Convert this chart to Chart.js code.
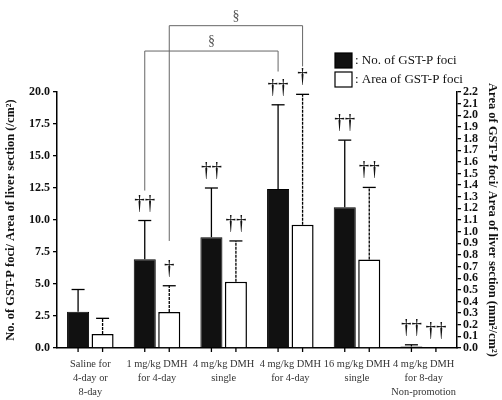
<!DOCTYPE html>
<html>
<head>
<meta charset="utf-8">
<script src="https://cdn.jsdelivr.net/npm/chart.js@4.4.1/dist/chart.umd.min.js"></script>
<style>
  html, body { margin: 0; padding: 0; background: #fff; }
</style>
</head>
<body>
<canvas id="c" width="502" height="400"></canvas>
<script>
const groups = [
  ["Saline for", "4-day or", "8-day"],
  ["1 mg/kg DMH", "for 4-day"],
  ["4 mg/kg DMH", "single"],
  ["4 mg/kg DMH", "for 4-day"],
  ["16 mg/kg DMH", "single"],
  ["4 mg/kg DMH", "for 8-day", "Non-promotion"]
];

// No. of GST-P foci (/cm2), left axis
const fociNumber = [2.83, 6.93, 8.66, 12.43, 11.0, 0.12];
const fociNumberSD = [1.74, 3.03, 3.84, 6.57, 5.24, 0.13];
// Area of GST-P foci (mm2/cm2), right axis
const fociArea = [0.12, 0.31, 0.57, 1.06, 0.76, 0];
const fociAreaSD = [0.135, 0.225, 0.35, 1.12, 0.62, 0];

const numberMarks = ["", "††", "††", "††", "††", "††"];
const areaMarks = ["", "†", "††", "†", "††", "††"];

const leftTicks = [0, 2.5, 5, 7.5, 10, 12.5, 15, 17.5, 20];
const rightTicks = [0, 0.1, 0.2, 0.3, 0.4, 0.5, 0.6, 0.7, 0.8, 0.9, 1.0, 1.1,
  1.2, 1.3, 1.4, 1.5, 1.6, 1.7, 1.8, 1.9, 2.0, 2.1, 2.2];

const serif = "'Liberation Serif', 'Times New Roman', serif";

// § brackets between 1 mg/kg and 4 mg/kg for 4-day (values in the axis units of each set)
const brackets = [
  { set: 0, from: 1, to: 3, top: 23.2, ends: [12.3, 21.6] },
  { set: 1, from: 1, to: 3, top: 2.77, ends: [0.92, 2.42] }
];

const extras = {
  id: "extras",
  afterDatasetsDraw(chart) {
    const ctx = chart.ctx;
    const bottom = chart.chartArea.bottom;
    const sets = [
      { meta: chart.getDatasetMeta(0), vals: fociNumber, sd: fociNumberSD, marks: numberMarks, scale: chart.scales.y, dash: [] },
      { meta: chart.getDatasetMeta(1), vals: fociArea, sd: fociAreaSD, marks: areaMarks, scale: chart.scales.y1, dash: [3, 1] }
    ];
    ctx.save();
    sets.forEach(s => {
      s.meta.data.forEach((bar, i) => {
        const x = bar.x;
        const yTop = s.scale.getPixelForValue(s.vals[i] + s.sd[i]);
        ctx.strokeStyle = "#000";
        ctx.lineWidth = 1.3;
        ctx.setLineDash([]);
        ctx.beginPath();
        ctx.moveTo(x, bottom);
        ctx.lineTo(x, bottom + 4);
        ctx.stroke();
        if (s.sd[i] > 0) {
          ctx.setLineDash(s.dash);
          ctx.beginPath();
          ctx.moveTo(x, bar.y);
          ctx.lineTo(x, yTop);
          ctx.stroke();
          ctx.setLineDash([]);
          ctx.beginPath();
          ctx.moveTo(x - 6.5, yTop);
          ctx.lineTo(x + 6.5, yTop);
          ctx.stroke();
        }
        if (s.marks[i]) {
          ctx.fillStyle = "#111";
          ctx.font = "21px " + serif;
          ctx.textAlign = "center";
          ctx.textBaseline = "alphabetic";
          ctx.fillText(s.marks[i], x, yTop - 12);
        }
      });
    });

    brackets.forEach(b => {
      const meta = sets[b.set].meta, scale = sets[b.set].scale;
      const x1 = meta.data[b.from].x, x2 = meta.data[b.to].x;
      const yT = scale.getPixelForValue(b.top);
      ctx.strokeStyle = "#666";
      ctx.lineWidth = 1;
      ctx.beginPath();
      ctx.moveTo(x1, scale.getPixelForValue(b.ends[0]));
      ctx.lineTo(x1, yT);
      ctx.lineTo(x2, yT);
      ctx.lineTo(x2, scale.getPixelForValue(b.ends[1]));
      ctx.stroke();
      ctx.fillStyle = "#555";
      ctx.font = "14px " + serif;
      ctx.textAlign = "center";
      ctx.textBaseline = "alphabetic";
      ctx.fillText("§", (x1 + x2) / 2, yT - 6);
    });

    // legend
    ctx.fillStyle = "#111";
    ctx.fillRect(335, 53, 17, 15);
    ctx.fillStyle = "#fff";
    ctx.fillRect(335, 72, 17, 15);
    ctx.strokeStyle = "#000";
    ctx.lineWidth = 1.2;
    ctx.strokeRect(335, 53, 17, 15);
    ctx.strokeRect(335, 72, 17, 15);
    ctx.fillStyle = "#111";
    ctx.font = "13px " + serif;
    ctx.textAlign = "left";
    ctx.textBaseline = "middle";
    ctx.fillText(": No. of GST-P foci", 355, 61);
    ctx.fillText(": Area of GST-P foci", 355, 80);
    ctx.restore();
  }
};

new Chart(document.getElementById("c"), {
  type: "bar",
  data: {
    labels: groups,
    datasets: [
      {
        label: "No. of GST-P foci",
        data: fociNumber,
        yAxisID: "y",
        backgroundColor: "#111",
        borderColor: "#000",
        borderWidth: 1
      },
      {
        label: "Area of GST-P foci",
        data: fociArea,
        yAxisID: "y1",
        backgroundColor: "#fff",
        borderColor: "#000",
        borderWidth: 1.5
      }
    ]
  },
  options: {
    responsive: false,
    animation: false,
    categoryPercentage: 0.735,
    barPercentage: 0.9,
    layout: { padding: { top: 92, left: 0, right: 0, bottom: 0 } },
    plugins: {
      legend: { display: false },
      tooltip: { enabled: false }
    },
    scales: {
      x: {
        grid: { display: false, drawTicks: false },
        border: { display: true, color: "#000", width: 1.5 },
        ticks: {
          color: "#333",
          font: { family: serif, size: 10.4, lineHeight: 1.3 },
          padding: 10,
          maxRotation: 0,
          autoSkip: false
        },
        afterFit(s) { s.height = 52; }
      },
      y: {
        position: "left",
        min: 0,
        max: 20,
        afterBuildTicks(s) { s.ticks = leftTicks.map(v => ({ value: v })); },
        ticks: {
          callback: v => Number(v).toFixed(1),
          color: "#111",
          font: { family: serif, size: 12, weight: "bold" },
          padding: 3,
          autoSkip: false
        },
        grid: { drawOnChartArea: false, tickLength: 4, color: "#000", lineWidth: 1.3 },
        border: { color: "#000", width: 1.5 },
        title: {
          display: true,
          text: "No. of GST-P foci/ Area of liver section (/cm²)",
          color: "#111",
          font: { family: serif, size: 12.5, weight: "bold" },
          padding: { top: 3, bottom: 0 }
        },
        afterFit(s) { s.width = 57; }
      },
      y1: {
        position: "right",
        min: 0,
        max: 2.2,
        afterBuildTicks(s) { s.ticks = rightTicks.map(v => ({ value: v })); },
        ticks: {
          callback: v => Number(v).toFixed(1),
          color: "#111",
          font: { family: serif, size: 12, weight: "bold" },
          padding: 2,
          autoSkip: false
        },
        grid: { drawOnChartArea: false, tickLength: 4, color: "#000", lineWidth: 1.3 },
        border: { color: "#000", width: 1.5 },
        title: {
          display: true,
          text: "Area of GST-P foci/ Area of liver section (mm²/cm²)",
          color: "#111",
          font: { family: serif, size: 12.5, weight: "bold" },
          padding: { top: 2, bottom: 0 }
        },
        afterFit(s) { s.width = 45; }
      }
    }
  },
  plugins: [extras]
});
</script>
</body>
</html>
